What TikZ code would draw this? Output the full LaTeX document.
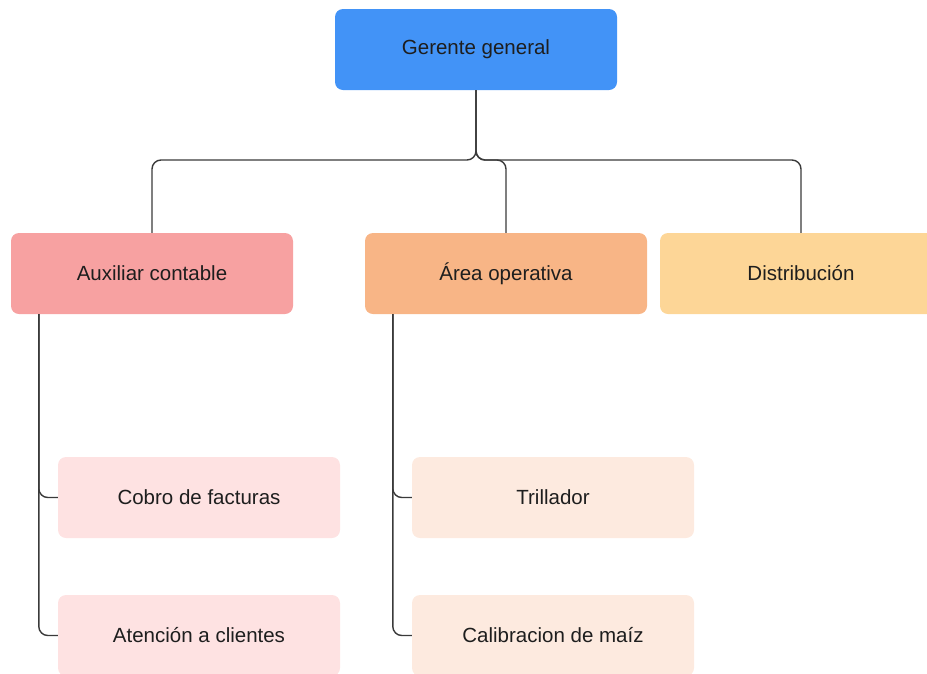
\documentclass[tikz,border=0pt]{standalone}
\usepackage{fontspec}
\setmainfont{Liberation Sans}
\definecolor{cblue}{HTML}{4293F7}
\definecolor{cpink}{HTML}{F7A1A1}
\definecolor{corange}{HTML}{F8B586}
\definecolor{cyellow}{HTML}{FDD697}
\definecolor{clpink}{HTML}{FEE2E2}
\definecolor{clorange}{HTML}{FDEADF}
\definecolor{ctext}{HTML}{1E1E1E}
\definecolor{cline}{HTML}{3A3A3A}
\tikzset{
  box/.style={rectangle, rounded corners=8pt, minimum width=282pt, minimum height=81pt,
    inner sep=0pt, text=ctext, font=\fontsize{20.5pt}{24pt}\selectfont},
  conn/.style={draw=cline, line width=1.4pt, rounded corners=9pt}
}
\begin{document}
\begin{tikzpicture}[x=1pt,y=1pt]
\useasboundingbox (0,0) rectangle (927,-673);
\begin{scope}
\clip (0,0) rectangle (927,-673);
\node[box, fill=cblue] (G) at (476,-49.5) {Gerente general};
\node[box, fill=cpink] (A) at (152,-273.5) {Auxiliar contable};
\node[box, fill=corange] (O) at (506,-273.5) {Área operativa};
\node[box, fill=cyellow] (D) at (801,-273.5) {Distribución};
\node[box, fill=clpink] (C1) at (199,-497.5) {Cobro de facturas};
\node[box, fill=clpink] (C2) at (199,-635.5) {Atención a clientes};
\node[box, fill=clorange] (T1) at (553,-497.5) {Trillador};
\node[box, fill=clorange] (T2) at (553,-635.5) {Calibracion de maíz};

\coordinate (bus) at (476,-160);
\draw[conn] (G.south) -- (bus) -| (A.north);
\draw[conn] (G.south) -- (bus) -| (O.north);
\draw[conn] (G.south) -- (bus) -| (D.north);

\coordinate (as) at ([xshift=28pt]A.south west);
\coordinate (os) at ([xshift=28pt]O.south west);
\draw[conn] (as) |- (C1.west);
\draw[conn] (as) |- (C2.west);
\draw[conn] (os) |- (T1.west);
\draw[conn] (os) |- (T2.west);
\end{scope}
\end{tikzpicture}
\end{document}
